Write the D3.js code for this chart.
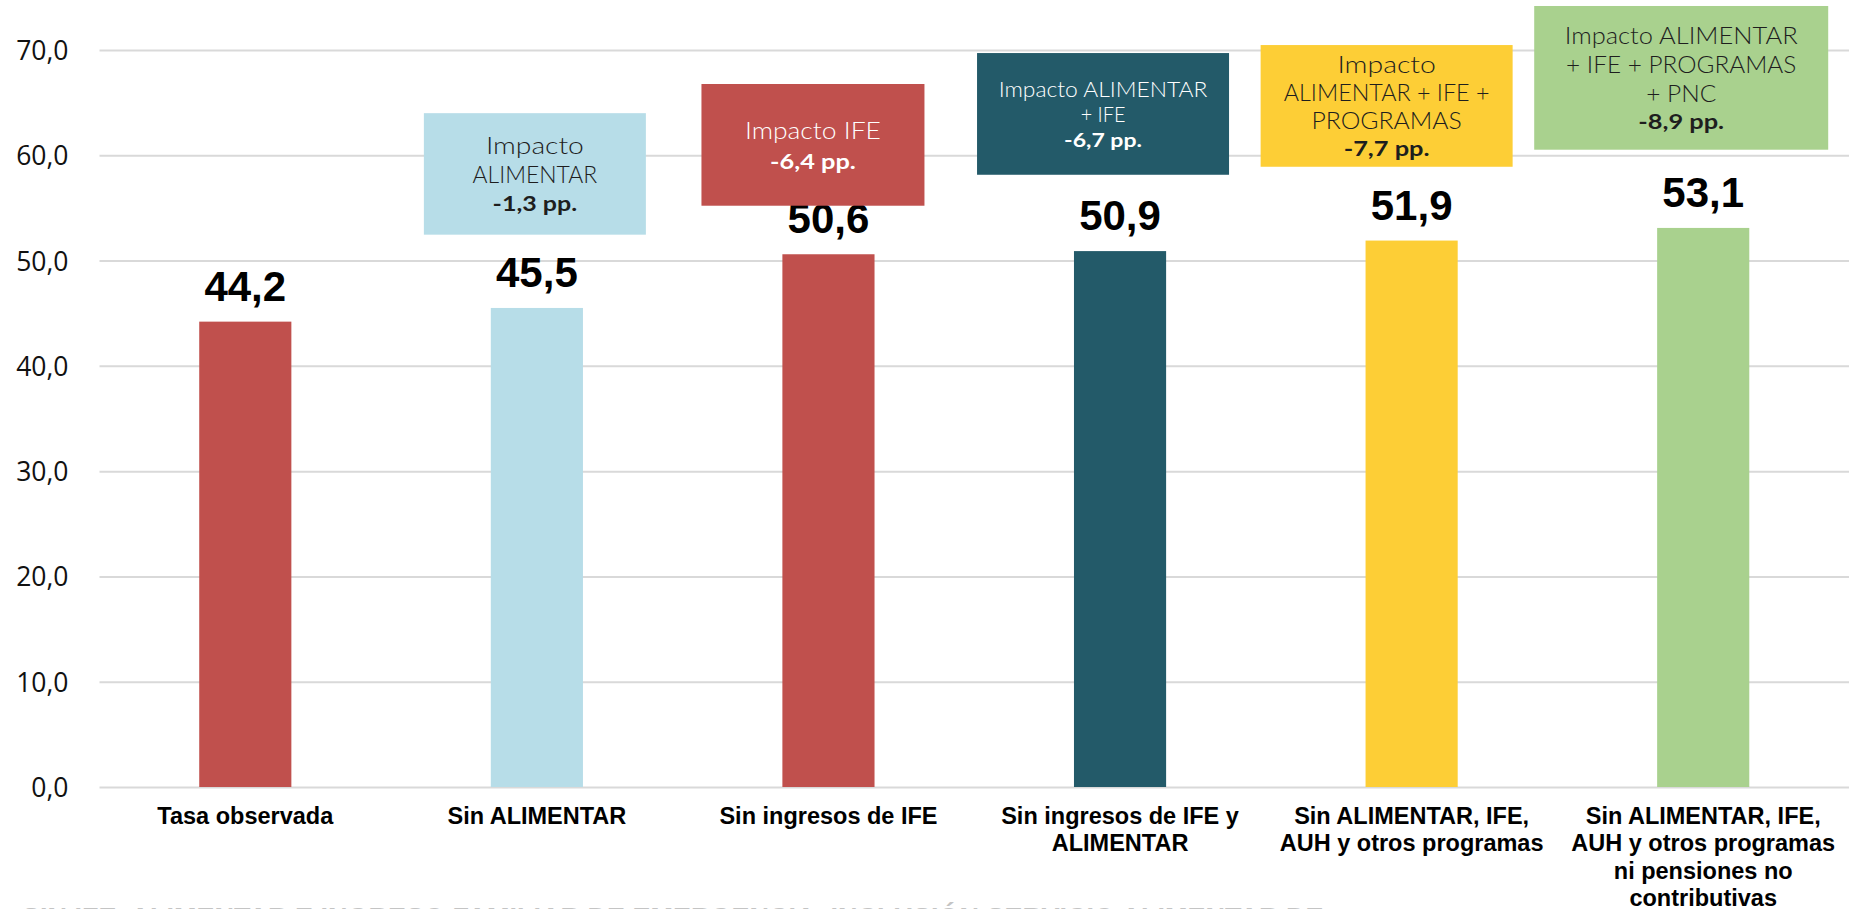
<!DOCTYPE html>
<html>
<head>
<meta charset="utf-8">
<script src="https://cdn.jsdelivr.net/npm/d3@7"></script>
<style>
  html, body { margin: 0; padding: 0; background: #fff; overflow: hidden; }
  svg { display: block; }
</style>
</head>
<body>
<svg id="chart" width="1858" height="909"></svg>
<script>
// ---------- DATA ----------
const categories = [
  "Tasa observada",
  "Sin ALIMENTAR",
  "Sin ingresos de IFE",
  "Sin ingresos de IFE y ALIMENTAR",
  "Sin ALIMENTAR, IFE, AUH y otros programas",
  "Sin ALIMENTAR, IFE, AUH y otros programas ni pensiones no contributivas"
];
const categoryLines = [
  ["Tasa observada"],
  ["Sin ALIMENTAR"],
  ["Sin ingresos de IFE"],
  ["Sin ingresos de IFE y", "ALIMENTAR"],
  ["Sin ALIMENTAR, IFE,", "AUH y otros programas"],
  ["Sin ALIMENTAR, IFE,", "AUH y otros programas", "ni pensiones no", "contributivas"]
];
const values = [44.2, 45.5, 50.6, 50.9, 51.9, 53.1];
const yTicks = [0, 10, 20, 30, 40, 50, 60, 70];
const impactTitles = [
  ["Impacto", "ALIMENTAR"],
  ["Impacto IFE"],
  ["Impacto ALIMENTAR", "+ IFE"],
  ["Impacto", "ALIMENTAR + IFE +", "PROGRAMAS"],
  ["Impacto ALIMENTAR", "+ IFE + PROGRAMAS", "+ PNC"]
];
const impactValues = [-1.3, -6.4, -6.7, -7.7, -8.9];
const footerText = "SIN IFE, ALIMENTAR E INGRESO FAMILIAR DE EMERGENCIA, INCLUSIÓN SERVICIO ALIMENTAR DE";

// ---------- STYLE / LAYOUT ----------
const barColors = ["#C0504D", "#B7DDE8", "#C0504D", "#235A69", "#FDCE36", "#A9D18E"];
// text widths (px) imitate the wide geometric face of the original
const boxLayout = [
  {bar: 1, dx: -2,    top: 64.0,  bottom: 52.46, width: 222, fs: 23,   bfs: 20, lh: 28.7, color: "#1e1e1e",
   tw: [98, 124.6], bw: 84.6},
  {bar: 2, dx: -15.5, top: 66.77, bottom: 55.21, width: 223, fs: 23,   bfs: 21, lh: 30.6, color: "#ffffff",
   tw: [136], bw: 85.8},
  {bar: 3, dx: -17,   top: 69.71, bottom: 58.15, width: 252, fs: 21.5, bfs: 19, lh: 25.3, color: "#ffffff",
   tw: [208.8, 44.7], bw: 77.9},
  {bar: 4, dx: -25,   top: 70.47, bottom: 58.91, width: 252, fs: 23,   bfs: 20, lh: 28.3, color: "#1e1e1e",
   tw: [98.5, 205.7, 150.5], bw: 85.9},
  {bar: 5, dx: -22,   top: 74.18, bottom: 60.53, width: 294, fs: 24,   bfs: 20, lh: 28.9, color: "#1e1e1e",
   tw: [232.9, 230.2, 70.1], bw: 85.9}
];

const plot = {left: 99.5, right: 1849, top: 50, bottom: 787};
const commaFmt = v => d3.format(".1f")(v).replace(".", ",").replace("\u2212", "-");

const svg = d3.select("#chart");

const x = d3.scaleBand()
  .domain(categories)
  .range([plot.left, plot.right])
  .paddingInner(0.684)
  .paddingOuter(0.342);

const y = d3.scaleLinear()
  .domain([0, 70])
  .range([plot.bottom, plot.top]);

// Y axis with gridlines
const yAxis = d3.axisLeft(y)
  .tickValues(yTicks)
  .tickFormat(commaFmt)
  .tickSizeInner(-(plot.right - plot.left))
  .tickSizeOuter(0)
  .tickPadding(31);

const gy = svg.append("g")
  .attr("transform", `translate(${plot.left},0)`)
  .call(yAxis);
gy.select(".domain").remove();
gy.selectAll(".tick line").attr("stroke", "#d9d9d9").attr("stroke-width", 2);
gy.selectAll(".tick text")
  .attr("font-family", "'Open Sans', 'Noto Sans', sans-serif")
  .attr("font-size", 26.5)
  .attr("fill", "#111")
  .attr("dy", "0.36em");

// Bars
svg.append("g").selectAll("rect")
  .data(values)
  .join("rect")
  .attr("x", (d, i) => x(categories[i]))
  .attr("width", x.bandwidth())
  .attr("y", d => y(d))
  .attr("height", d => y(0) - y(d))
  .attr("fill", (d, i) => barColors[i]);

// Value labels
svg.append("g").selectAll("text")
  .data(values)
  .join("text")
  .attr("x", (d, i) => x(categories[i]) + x.bandwidth() / 2)
  .attr("y", d => y(d) - 21)
  .attr("text-anchor", "middle")
  .attr("font-family", "'Liberation Sans', Arial, sans-serif")
  .attr("font-weight", "bold")
  .attr("font-size", 42)
  .attr("fill", "#000")
  .text(d => commaFmt(d));

// X axis (category labels)
const xAxis = d3.axisBottom(x).tickSize(0).tickFormat("");
const gx = svg.append("g")
  .attr("transform", `translate(0,${y(0)})`)
  .call(xAxis);
gx.select(".domain").remove();
gx.selectAll(".tick").each(function(d, i) {
  const t = d3.select(this).append("text")
    .attr("text-anchor", "middle")
    .attr("font-family", "'Liberation Sans', Arial, sans-serif")
    .attr("font-weight", "bold")
    .attr("font-size", 23.5)
    .attr("fill", "#000");
  categoryLines[i].forEach((line, k) => {
    t.append("tspan").attr("x", 0).attr("y", 37 + k * 27.3).text(line);
  });
});

// Annotation boxes
boxLayout.forEach((b, i) => {
  const cx = x(categories[b.bar]) + x.bandwidth() / 2 + b.dx;
  const y0 = y(b.top), y1 = y(b.bottom);
  const g = svg.append("g");
  g.append("rect")
    .attr("x", cx - b.width / 2)
    .attr("y", y0)
    .attr("width", b.width)
    .attr("height", y1 - y0)
    .attr("fill", barColors[b.bar]);
  const lines = impactTitles[i].map((t, k) => ({t, bold: false, w: b.tw[k]}))
    .concat([{t: commaFmt(impactValues[i]) + " pp.", bold: true, w: b.bw}]);
  const n = lines.length;
  const cy = (y0 + y1) / 2 + 1;
  lines.forEach((l, k) => {
    g.append("text")
      .attr("x", cx)
      .attr("y", cy - (n - 1) / 2 * b.lh + k * b.lh)
      .attr("dy", "0.35em")
      .attr("text-anchor", "middle")
      .attr("font-family", "Lato, 'Open Sans', sans-serif")
      .attr("font-weight", l.bold ? 700 : 300)
      .attr("font-size", l.bold ? b.bfs : b.fs)
      .attr("textLength", l.w)
      .attr("lengthAdjust", "spacingAndGlyphs")
      .attr("fill", b.color)
      .text(l.t);
  });
});

// Clipped footer text at the very bottom (only its top edge shows)
svg.append("text")
  .attr("x", 22)
  .attr("y", 927)
  .attr("font-family", "'Liberation Sans', Arial, sans-serif")
  .attr("font-weight", "bold")
  .attr("font-size", 27)
  .attr("fill", "#c4c4c4")
  .text(footerText);
</script>
</body>
</html>
